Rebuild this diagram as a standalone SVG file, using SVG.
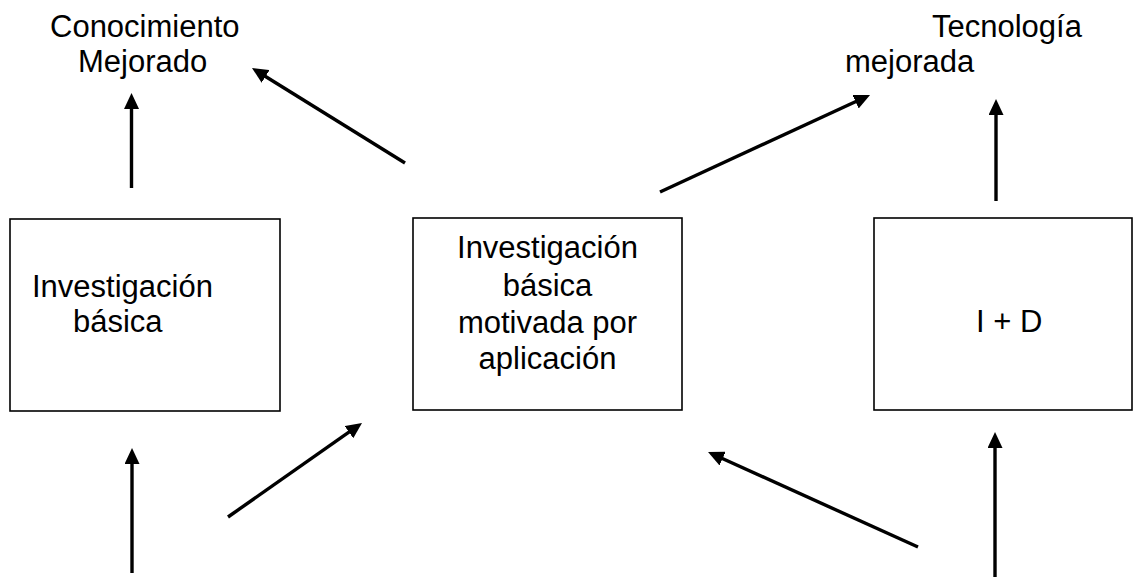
<svg xmlns="http://www.w3.org/2000/svg" width="1133" height="577" viewBox="0 0 1133 577">
  <defs>
    <style>
      .box { fill: #ffffff; stroke: #000000; stroke-width: 1.6; }
      .lbl { font-family: "Liberation Sans", Arial, sans-serif; font-size: 31px; fill: #000000; }
      .mid { text-anchor: middle; }
      .arrow { fill: none; stroke: #000000; stroke-width: 3.4; marker-end: url(#head); }
    </style>
    <marker id="head" markerUnits="userSpaceOnUse" markerWidth="16" markerHeight="15" refX="10" refY="7.5" orient="auto">
      <path d="M0,0 L16,7.5 L0,15 z" fill="#000000"/>
    </marker>
  </defs>
  <rect width="1133" height="577" fill="#ffffff"/>

  <!-- outcome labels -->
  <g id="conocimiento">
    <text class="lbl" x="50" y="37">Conocimiento</text>
    <text class="lbl" x="78" y="72">Mejorado</text>
  </g>
  <g id="tecnologia">
    <text class="lbl" x="932" y="37">Tecnología</text>
    <text class="lbl" x="845" y="72">mejorada</text>
  </g>

  <!-- research boxes -->
  <g id="basica">
    <rect class="box" x="10" y="219" width="270" height="192"/>
    <text class="lbl" x="32" y="297">Investigación</text>
    <text class="lbl" x="73" y="332">básica</text>
  </g>
  <g id="aplicada">
    <rect class="box" x="413" y="218" width="269" height="192"/>
    <text class="lbl mid" x="547.5" y="258">Investigación</text>
    <text class="lbl mid" x="547.5" y="296">básica</text>
    <text class="lbl mid" x="547.5" y="333">motivada por</text>
    <text class="lbl mid" x="547.5" y="369">aplicación</text>
  </g>
  <g id="id">
    <rect class="box" x="874" y="218" width="258" height="192"/>
    <text class="lbl" x="976" y="332">I + D</text>
  </g>

  <!-- connectors -->
  <g id="connectors">
    <path class="arrow" d="M131.5,188 L131.5,99"/>
    <path class="arrow" d="M405,163 L257.1,71.2"/>
    <path class="arrow" d="M660,192 L864.6,97.5"/>
    <path class="arrow" d="M996,201 L996,105"/>
    <path class="arrow" d="M132,573 L132,454"/>
    <path class="arrow" d="M228,517 L357.1,426.4"/>
    <path class="arrow" d="M918,547 L713.5,454.5"/>
    <path class="arrow" d="M995,577 L995,438"/>
  </g>
</svg>
